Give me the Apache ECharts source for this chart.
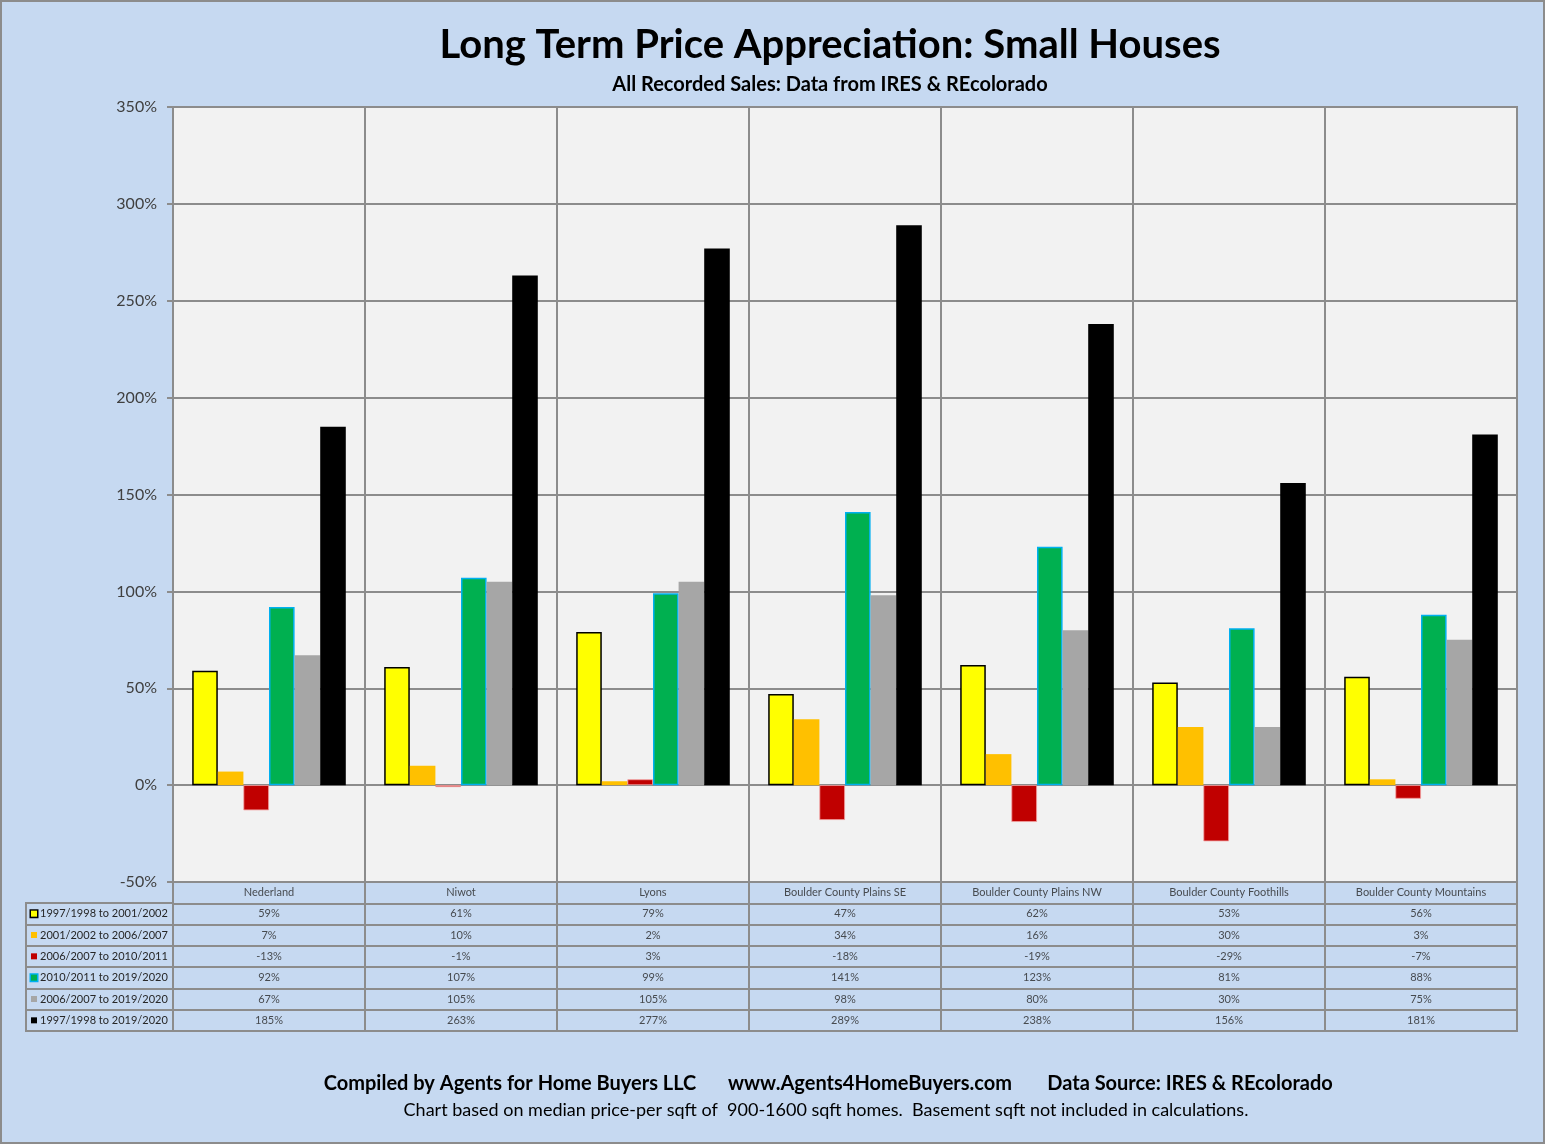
<!DOCTYPE html>
<html>
<head>
<meta charset="utf-8">
<script src="https://cdn.jsdelivr.net/npm/echarts@6/dist/echarts.min.js"></script>
<style>
html,body{margin:0;padding:0;background:#c6d9f1;}
#chart{width:1545px;height:1144px;}
</style>
</head>
<body>
<div id="chart"></div>
<script>
const categories = ['Nederland','Niwot','Lyons','Boulder County Plains SE','Boulder County Plains NW','Boulder County Foothills','Boulder County Mountains'];
const seriesNames = ['1997/1998 to 2001/2002','2001/2002 to 2006/2007','2006/2007 to 2010/2011','2010/2011 to 2019/2020','2006/2007 to 2019/2020','1997/1998 to 2019/2020'];
const s1997to2002 = [59,61,79,47,62,53,56];
const s2002to2007 = [7,10,2,34,16,30,3];
const s2007to2011 = [-13,-1,3,-18,-19,-29,-7];
const s2011to2020 = [92,107,99,141,123,81,88];
const s2007to2020 = [67,105,105,98,80,30,75];
const s1998to2020 = [185,263,277,289,238,156,181];
const yTicks = {min:-50, max:350, interval:50};

const allValues = [s1997to2002,s2002to2007,s2007to2011,s2011to2020,s2007to2020,s1998to2020];
const styles = [
  {color:'#ffff00', borderColor:'#000000', borderWidth:1.5},
  {color:'#ffc000'},
  {color:'#c00000', borderColor:'#f2a0a0', borderWidth:0.8},
  {color:'#00b050', borderColor:'#00b0f0', borderWidth:1.5},
  {color:'#a6a6a6'},
  {color:'#000000'}
];
const FONT = 'Lato';
const GRID_LINE = '#8c8c8c';

const barSeries = allValues.map((vals, i) => ({
  name: seriesNames[i],
  type: 'bar',
  xAxisIndex: 0, yAxisIndex: 0,
  barGap: '0%',
  barCategoryGap: '20%',
  itemStyle: styles[i],
  data: vals,
  silent: true
}));

// table cells
const cellData = [];
categories.forEach((c, i) => cellData.push([i, 0, c]));
allValues.forEach((vals, j) => vals.forEach((v, i) => cellData.push([i, j + 1, v + '%'])));

const rich = {};
styles.forEach((s, i) => {
  rich['s' + i] = {width: 6, height: 6, backgroundColor: s.color,
    borderColor: (i === 0 ? '#000' : (i === 3 ? '#00b0f0' : s.color)), borderWidth: (i === 0 || i === 3) ? 1.5 : 0};
});
rich.t = {fontSize: 11, color: '#262626', fontFamily: FONT, padding: [0,0,0,3]};

const chart = echarts.init(document.getElementById('chart'));
chart.setOption({
  backgroundColor: '#c6d9f1',
  animation: false,
  title: [
    {text: 'Long Term Price Appreciation: Small Houses', left: 825, top: 20, textAlign: 'center',
      textStyle: {fontFamily: FONT, fontSize: 40, fontWeight: 'bold', color: '#000'}},
    {text: 'All Recorded Sales: Data from IRES & REcolorado', left: 825, top: 70, textAlign: 'center',
      textStyle: {fontFamily: FONT, fontSize: 20, fontWeight: 'bold', color: '#000'}},
    {text: 'Compiled by Agents for Home Buyers LLC', left: 505, top: 1069, textAlign: 'center',
      textStyle: {fontFamily: FONT, fontSize: 20, fontWeight: 'bold', color: '#000'}},
    {text: 'www.Agents4HomeBuyers.com', left: 865, top: 1069, textAlign: 'center',
      textStyle: {fontFamily: FONT, fontSize: 20, fontWeight: 'bold', color: '#000'}},
    {text: 'Data Source: IRES & REcolorado', left: 1185, top: 1069, textAlign: 'center',
      textStyle: {fontFamily: FONT, fontSize: 20, fontWeight: 'bold', color: '#000'}},
    {text: 'Chart based on median price-per sqft of  900-1600 sqft homes.  Basement sqft not included in calculations.', left: 821, top: 1096, textAlign: 'center',
      textStyle: {fontFamily: FONT, fontSize: 18, fontWeight: 'normal', color: '#000'}}
  ],
  graphic: [
    {type: 'rect', shape: {x: 1, y: 1, width: 1543, height: 1142}, style: {fill: null, stroke: GRID_LINE, lineWidth: 2}, silent: true}
  ],
  grid: [
    {left: 173, top: 107, width: 1344, height: 775, show: true, backgroundColor: '#f2f2f2', borderColor: GRID_LINE, borderWidth: 2},
    {left: 173, top: 882, width: 1344, height: 149, show: true, backgroundColor: 'transparent', borderColor: GRID_LINE, borderWidth: 2},
    {left: 26, top: 903, width: 147, height: 128, show: true, backgroundColor: 'transparent', borderColor: GRID_LINE, borderWidth: 2}
  ],
  xAxis: [
    {type: 'category', gridIndex: 0, data: categories, axisLabel: {show: false}, axisTick: {show: false},
      axisLine: {show: false}, splitLine: {show: true, interval: 0, lineStyle: {color: GRID_LINE, width: 2}}},
    {type: 'category', gridIndex: 1, data: categories, axisLabel: {show: false}, axisTick: {show: false},
      axisLine: {show: false}, splitLine: {show: true, interval: 0, lineStyle: {color: GRID_LINE, width: 2}}},
    {type: 'category', gridIndex: 2, data: [''], axisLabel: {show: false}, axisTick: {show: false},
      axisLine: {show: false}, splitLine: {show: false}}
  ],
  yAxis: [
    {type: 'value', gridIndex: 0, min: yTicks.min, max: yTicks.max, interval: yTicks.interval,
      axisLabel: {formatter: '{value}%', fontFamily: FONT, fontSize: 16, color: '#404040', margin: 16},
      axisLine: {show: true, lineStyle: {color: GRID_LINE, width: 2}},
      axisTick: {show: true, length: 6, lineStyle: {color: GRID_LINE, width: 2}},
      splitLine: {show: true, lineStyle: {color: GRID_LINE, width: 2}}},
    {type: 'category', gridIndex: 1, inverse: true, data: ['', ...seriesNames], axisLabel: {show: false},
      axisTick: {show: false}, axisLine: {show: false},
      splitLine: {show: true, interval: 0, lineStyle: {color: GRID_LINE, width: 2}}},
    {type: 'category', gridIndex: 2, inverse: true, data: seriesNames,
      axisLabel: {inside: true, margin: 5, formatter: (v, idx) => '{s' + idx + '|}{t|' + v + '}', rich: rich},
      axisTick: {show: false}, axisLine: {show: false},
      splitLine: {show: true, interval: 0, lineStyle: {color: GRID_LINE, width: 2}}}
  ],
  series: [
    ...barSeries,
    {type: 'scatter', xAxisIndex: 1, yAxisIndex: 1, symbolSize: 0, silent: true, data: cellData,
      label: {show: true, position: 'inside', formatter: p => p.data[2], fontFamily: FONT, fontSize: 11, color: '#262626'}}
  ]
});
</script>
</body>
</html>
